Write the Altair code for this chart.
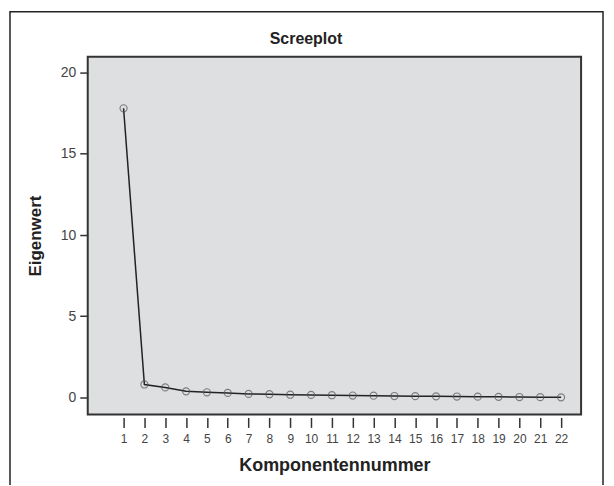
import altair as alt
import pandas as pd

komponenten = list(range(1, 23))
eigenwerte = [17.8, 0.80, 0.62, 0.38, 0.32, 0.28, 0.22, 0.20, 0.17, 0.16, 0.14,
              0.12, 0.11, 0.09, 0.08, 0.07, 0.06, 0.05, 0.04, 0.03, 0.02, 0.01]
y_ticks = [0, 5, 10, 15, 20]
chart_title = "Screeplot"

df = pd.DataFrame({"Komponente": komponenten, "Eigenwert": eigenwerte})

FONT = "Liberation Sans"

x_enc = alt.X("Komponente:Q",
              scale=alt.Scale(domain=[-0.72, 22.96], nice=False, zero=False),
              axis=alt.Axis(title="Komponentennummer", values=komponenten, format="d",
                            grid=False, domain=False, tickSize=10, offset=3,
                            tickColor="#333", tickWidth=1.5,
                            labelFont=FONT, labelFontSize=12, labelColor="#444",
                            labelPadding=6, labelFlush=False, labelOverlap=False,
                            titleFont=FONT, titleFontSize=18, titleFontWeight="bold",
                            titleColor="#222", titlePadding=12))
y_enc = alt.Y("Eigenwert:Q",
              scale=alt.Scale(domain=[-1.043, 20.98], nice=False, zero=False),
              axis=alt.Axis(title="Eigenwert", values=y_ticks, grid=False, domain=False,
                            tickSize=8, tickColor="#333", tickWidth=1.5,
                            labelFont=FONT, labelFontSize=14, labelColor="#444",
                            labelPadding=4,
                            titleFont=FONT, titleFontSize=17, titleFontWeight="bold",
                            titleColor="#222", titlePadding=16))

line = alt.Chart(df).mark_line(color="#222", strokeWidth=1.5).encode(x=x_enc, y=y_enc)
points = alt.Chart(df).mark_point(shape="circle", size=50, filled=False,
                                  color="#555", strokeWidth=1.2).encode(x=x_enc, y=y_enc)

one = pd.DataFrame({"t": [chart_title]})
frame = alt.Chart(one).mark_rect(
    fillOpacity=0, stroke="#222", strokeWidth=1.5, clip=False
).encode(x=alt.value(-78), x2=alt.value(517), y=alt.value(-45), y2=alt.value(470))
title = alt.Chart(one).mark_text(
    font=FONT, fontSize=16, fontWeight="bold", color="#222",
    align="center", baseline="middle", clip=False
).encode(text="t:N", x=alt.value(219), y=alt.value(-18))

chart = alt.layer(frame, title, line, points).properties(
    width=495, height=359,
    padding={"left": 80, "top": 48, "right": 25, "bottom": 70},
    autosize=alt.AutoSizeParams(type="none"),
    background="white",
).configure_view(fill="#dedfe0", stroke="#333", strokeWidth=2)

chart.save("out.html", embed_options={"renderer": "svg", "actions": False})
